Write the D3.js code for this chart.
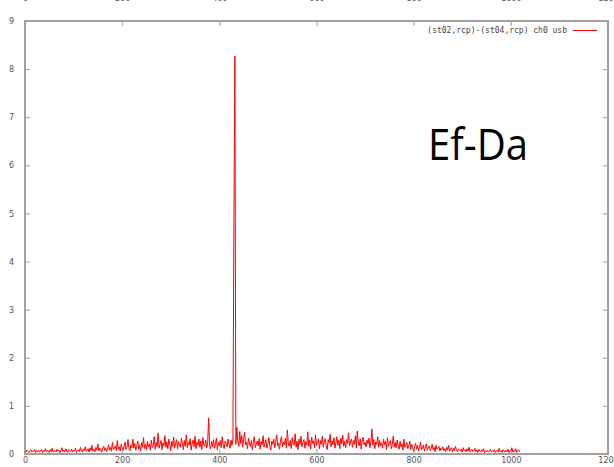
<!DOCTYPE html>
<html>
<head>
<meta charset="utf-8">
<script src="https://cdn.jsdelivr.net/npm/d3@7"></script>
<style>
  html, body { margin: 0; padding: 0; background: #fff; }
  svg { display: block; }
  .tick text { font-family: "DejaVu Sans", sans-serif; font-size: 8px; fill: #555; }
</style>
</head>
<body>
<svg id="chart" width="614" height="467"></svg>
<script>
// Cross-correlation amplitude per channel, (st02,rcp)-(st04,rcp) ch0 usb
const seriesName = "(st02,rcp)-(st04,rcp) ch0 usb";
const channelStep = 2;
const amplitude = [
  0.06,0.04,0.08,0.05,0.03,0.07,0.09,0.04,0.06,0.05,0.10,0.03,0.07,0.05,0.08,0.04,
  0.06,0.09,0.03,0.07,0.05,0.11,0.04,0.08,0.06,0.03,0.09,0.05,0.12,0.04,0.07,0.06,
  0.04,0.10,0.06,0.08,0.03,0.07,0.13,0.05,0.08,0.04,0.11,0.06,0.03,0.09,0.07,0.05,
  0.10,0.04,0.08,0.06,0.12,0.03,0.07,0.09,0.05,0.14,0.06,0.04,0.10,0.07,0.15,0.05,
  0.08,0.11,0.04,0.13,0.07,0.18,0.06,0.10,0.05,0.14,0.08,0.21,0.06,0.12,0.09,0.04,
  0.11,0.16,0.07,0.13,0.05,0.10,0.19,0.08,0.14,0.06,0.24,0.09,0.12,0.17,0.07,0.28,
  0.10,0.15,0.06,0.20,0.12,0.08,0.17,0.25,0.09,0.14,0.30,0.11,0.07,0.19,0.13,0.31,
  0.12,0.22,0.08,0.16,0.27,0.10,0.18,0.06,0.24,0.14,0.34,0.11,0.20,0.09,0.26,0.15,
  0.21,0.08,0.29,0.13,0.18,0.36,0.10,0.24,0.15,0.44,0.12,0.20,0.28,0.09,0.23,0.17,
  0.38,0.14,0.25,0.11,0.31,0.19,0.07,0.27,0.16,0.35,0.12,0.22,0.30,0.10,0.26,0.18,
  0.14,0.33,0.21,0.09,0.28,0.16,0.40,0.13,0.24,0.19,0.32,0.08,0.22,0.29,0.15,0.37,
  0.11,0.25,0.18,0.31,0.14,0.27,0.09,0.34,0.20,0.16,0.29,0.12,0.23,0.75,0.18,0.10,
  0.26,0.15,0.30,0.12,0.21,0.33,0.09,0.24,0.17,0.28,0.13,0.36,0.19,0.11,0.27,0.22,
  0.15,0.31,0.20,0.12,0.29,0.18,0.30,4.80,8.27,0.20,0.56,0.28,0.16,0.47,0.22,0.38,
  0.14,0.30,0.45,0.19,0.25,0.11,0.33,0.21,0.16,0.28,0.09,0.24,0.36,0.13,0.20,0.27,
  0.17,0.32,0.10,0.26,0.19,0.38,0.14,0.23,0.30,0.12,0.21,0.34,0.16,0.08,0.27,0.20,
  0.31,0.13,0.24,0.40,0.17,0.22,0.10,0.29,0.36,0.15,0.25,0.19,0.33,0.12,0.50,0.21,
  0.16,0.28,0.11,0.34,0.22,0.18,0.42,0.14,0.27,0.09,0.31,0.20,0.37,0.15,0.24,0.30,
  0.12,0.26,0.19,0.46,0.16,0.29,0.10,0.35,0.22,0.27,0.13,0.40,0.18,0.24,0.31,0.11,
  0.28,0.20,0.37,0.14,0.25,0.32,0.17,0.09,0.30,0.23,0.41,0.15,0.27,0.19,0.34,0.12,
  0.24,0.36,0.18,0.29,0.11,0.33,0.21,0.39,0.16,0.26,0.13,0.30,0.22,0.44,0.17,0.25,
  0.31,0.14,0.28,0.20,0.38,0.12,0.48,0.23,0.17,0.32,0.10,0.27,0.35,0.19,0.24,0.15,
  0.29,0.21,0.33,0.13,0.26,0.52,0.18,0.30,0.11,0.25,0.20,0.36,0.14,0.28,0.17,0.23,
  0.12,0.31,0.19,0.26,0.09,0.34,0.16,0.22,0.28,0.11,0.20,0.37,0.15,0.24,0.13,0.29,
  0.18,0.10,0.26,0.15,0.21,0.08,0.31,0.14,0.19,0.24,0.11,0.17,0.27,0.09,0.20,0.13,
  0.06,0.16,0.22,0.10,0.18,0.07,0.14,0.25,0.09,0.12,0.19,0.06,0.15,0.21,0.08,0.13,
  0.17,0.07,0.11,0.20,0.09,0.14,0.05,0.18,0.10,0.13,0.16,0.06,0.12,0.09,0.15,0.07,
  0.11,0.05,0.14,0.08,0.18,0.06,0.10,0.13,0.04,0.12,0.07,0.16,0.09,0.05,0.11,0.08,
  0.06,0.10,0.04,0.13,0.07,0.09,0.05,0.11,0.06,0.14,0.04,0.08,0.10,0.05,0.07,0.12,
  0.05,0.08,0.03,0.10,0.06,0.04,0.09,0.05,0.11,0.03,0.07,0.05,0.08,0.04,0.06,0.10,
  0.04,0.07,0.05,0.09,0.03,0.06,0.08,0.04,0.12,0.05,0.07,0.03,0.09,0.06,0.04,0.08,
  0.05,0.10,0.03,0.07,0.06,0.13,0.04,0.08,0.05,0.11,0.03,0.07,0.09,0.04
];
const xTicks = [0, 200, 400, 600, 800, 1000, 1200];
const yTicks = [0, 1, 2, 3, 4, 5, 6, 7, 8, 9];
const baselineLabel = "Ef-Da";

const svg = d3.select("#chart");
const margin = { left: 25, right: 6, top: 21, bottom: 13 };
const W = 614, H = 467;

const x = d3.scaleLinear().domain([0, 1200]).range([margin.left, W - margin.right]);
const y = d3.scaleLinear().domain([0, 9]).range([H - margin.bottom, margin.top]);

const axisColor = "#a0a0a0";

function styleAxis(g) {
  g.select(".domain").remove();
  g.selectAll(".tick line").attr("stroke", axisColor).attr("stroke-width", 1);
}

// bottom axis (ticks inward)
svg.append("g")
  .attr("transform", `translate(0,${y(0)})`)
  .call(d3.axisBottom(x).tickValues(xTicks).tickSize(-5).tickPadding(3).tickFormat(d3.format("d")))
  .call(styleAxis);

// top axis (mirror, with labels)
svg.append("g")
  .attr("transform", `translate(0,${y(9)})`)
  .call(d3.axisTop(x).tickValues(xTicks).tickSize(-5).tickPadding(20).tickFormat(d3.format("d")))
  .call(styleAxis);

// left axis
svg.append("g")
  .attr("transform", `translate(${x(0)},0)`)
  .call(d3.axisLeft(y).tickValues(yTicks).tickSize(-5).tickPadding(11).tickFormat(d3.format("d")))
  .call(styleAxis);

// right axis (mirror ticks only)
svg.append("g")
  .attr("transform", `translate(${x(1200)},0)`)
  .call(d3.axisRight(y).tickValues(yTicks).tickSize(-5).tickFormat(""))
  .call(styleAxis);

// frame
svg.append("rect")
  .attr("x", x(0)).attr("y", y(9))
  .attr("width", x(1200) - x(0)).attr("height", y(0) - y(9))
  .attr("fill", "none").attr("stroke", axisColor).attr("stroke-width", 2);

// data line
const line = d3.line()
  .x((d, i) => x(i * channelStep))
  .y(d => y(d));

svg.append("path")
  .datum(amplitude)
  .attr("fill", "none")
  .attr("stroke", "#ff0000")
  .attr("stroke-width", 1)
  .attr("d", line);

// legend
const legend = svg.append("g");
legend.append("text")
  .attr("x", 567).attr("y", y(9) + 12)
  .attr("text-anchor", "end")
  .attr("font-family", "DejaVu Sans Mono, monospace")
  .attr("font-size", 8)
  .attr("fill", "#444")
  .text(seriesName);
legend.append("line")
  .attr("x1", 573).attr("x2", 597)
  .attr("y1", y(9) + 9.5).attr("y2", y(9) + 9.5)
  .attr("stroke", "#ff0000").attr("stroke-width", 1);

// baseline annotation
svg.append("text")
  .attr("x", 428).attr("y", 160)
  .attr("font-family", "Open Sans, sans-serif")
  .attr("font-size", 44)
  .attr("textLength", 100)
  .attr("lengthAdjust", "spacingAndGlyphs")
  .attr("fill", "#000")
  .text(baselineLabel);
</script>
</body>
</html>
